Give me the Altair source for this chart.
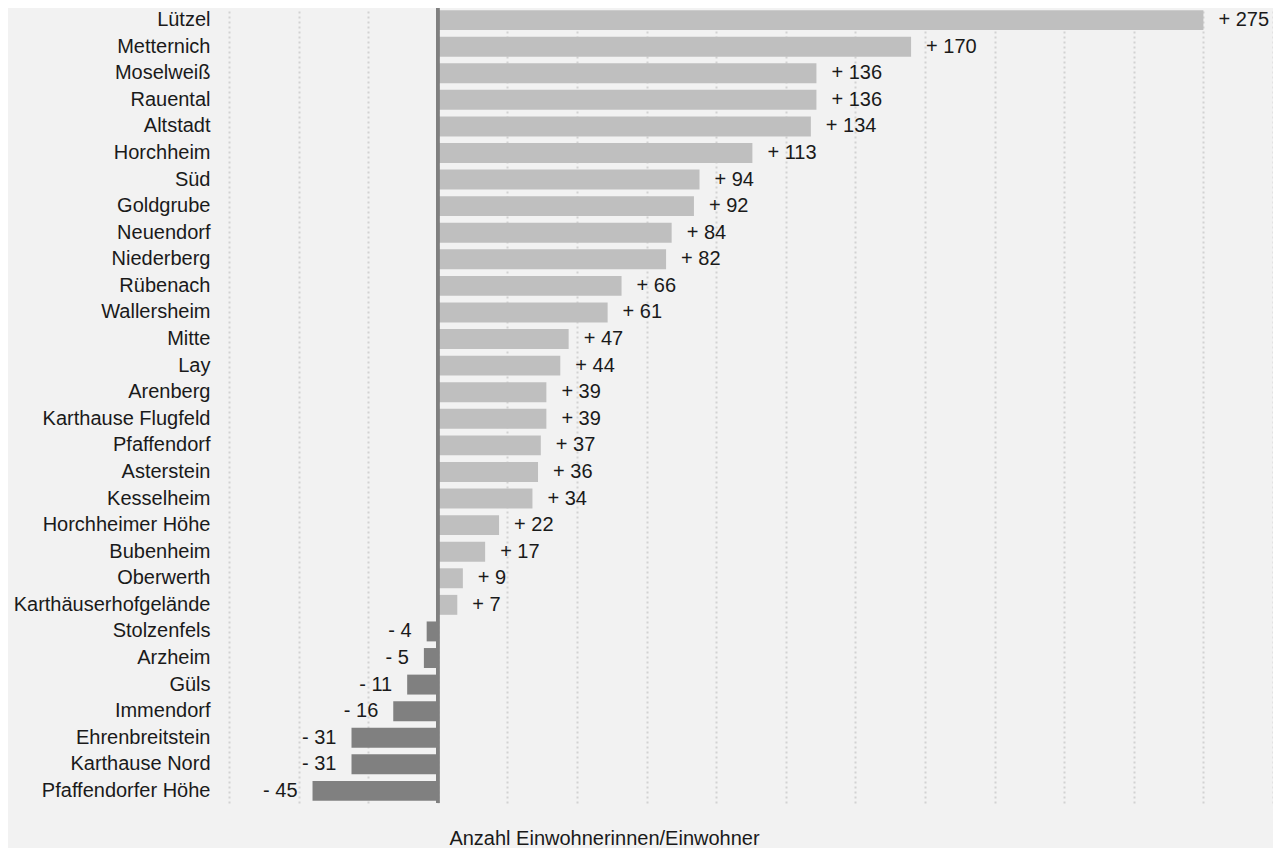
import altair as alt
import pandas as pd

districts = ["Lützel", "Metternich", "Moselweiß", "Rauental", "Altstadt", "Horchheim",
             "Süd", "Goldgrube", "Neuendorf", "Niederberg", "Rübenach", "Wallersheim",
             "Mitte", "Lay", "Arenberg", "Karthause Flugfeld", "Pfaffendorf", "Asterstein",
             "Kesselheim", "Horchheimer Höhe", "Bubenheim", "Oberwerth",
             "Karthäuserhofgelände", "Stolzenfels", "Arzheim", "Güls", "Immendorf",
             "Ehrenbreitstein", "Karthause Nord", "Pfaffendorfer Höhe"]
values = [275, 170, 136, 136, 134, 113, 94, 92, 84, 82, 66, 61, 47, 44, 39, 39, 37, 36,
          34, 22, 17, 9, 7, -4, -5, -11, -16, -31, -31, -45]
grid_ticks = [-75, -50, -25, 0, 25, 50, 75, 100, 125, 150, 175, 200, 225, 250, 275, 300]

df = pd.DataFrame({"Stadtteil": districts, "Wert": values})
df["Label"] = [("+ " if v > 0 else "- ") + str(abs(v)) for v in values]
df["Farbe"] = ["pos" if v > 0 else "neg" for v in values]

FONT = "Liberation Sans"

x_scale = alt.Scale(domain=[-75, 300], nice=False, zero=False)
y_enc = alt.Y("Stadtteil:N", sort=districts,
              scale=alt.Scale(paddingInner=0.25, paddingOuter=0.08),
              axis=alt.Axis(title=None, ticks=False, domain=False, labelPadding=19,
                            labelFontSize=20, labelFont=FONT, labelColor="#1a1a1a",
                            grid=False, labelLimit=400))

base = alt.Chart(df)

bars = base.mark_bar().encode(
    x=alt.X("Wert:Q", scale=x_scale,
            axis=alt.Axis(values=grid_ticks, labels=False, ticks=False, domain=False,
                          grid=True, gridColor="#d2d2d2", gridWidth=2, gridDash=[2, 3],
                          title="Anzahl Einwohnerinnen/Einwohner", titleFont=FONT,
                          titleFontSize=20, titleFontWeight="normal", titleColor="#1a1a1a",
                          titleX=375, titleY=41, titleAlign="center",
                          titleBaseline="alphabetic")),
    x2=alt.datum(0),
    y=y_enc,
    color=alt.Color("Farbe:N", scale=alt.Scale(domain=["pos", "neg"],
                                                range=["#bfbfbf", "#808080"]), legend=None),
)

zero = alt.Chart(df).mark_rule(color="#808080", strokeWidth=2.5).encode(x=alt.datum(0))

pos_text = base.transform_filter("datum.Wert > 0").mark_text(
    align="left", baseline="middle", dx=15, font=FONT, fontSize=20, color="#1a1a1a"
).encode(x=alt.X("Wert:Q", scale=x_scale), y=y_enc, text="Label:N")

neg_text = base.transform_filter("datum.Wert < 0").mark_text(
    align="right", baseline="middle", dx=-15, font=FONT, fontSize=20, color="#1a1a1a"
).encode(x=alt.X("Wert:Q", scale=x_scale), y=y_enc, text="Label:N")

chart = alt.layer(bars, zero, pos_text, neg_text).properties(
    width=1044, height=795,
    background="#f2f2f2",
    padding={"left": 221, "top": 0, "right": 0, "bottom": 46},
    autosize=alt.AutoSizeParams(type="none"),
).configure_view(stroke=None)

chart.save("out.html", embed_options={"renderer": "svg", "actions": False})
